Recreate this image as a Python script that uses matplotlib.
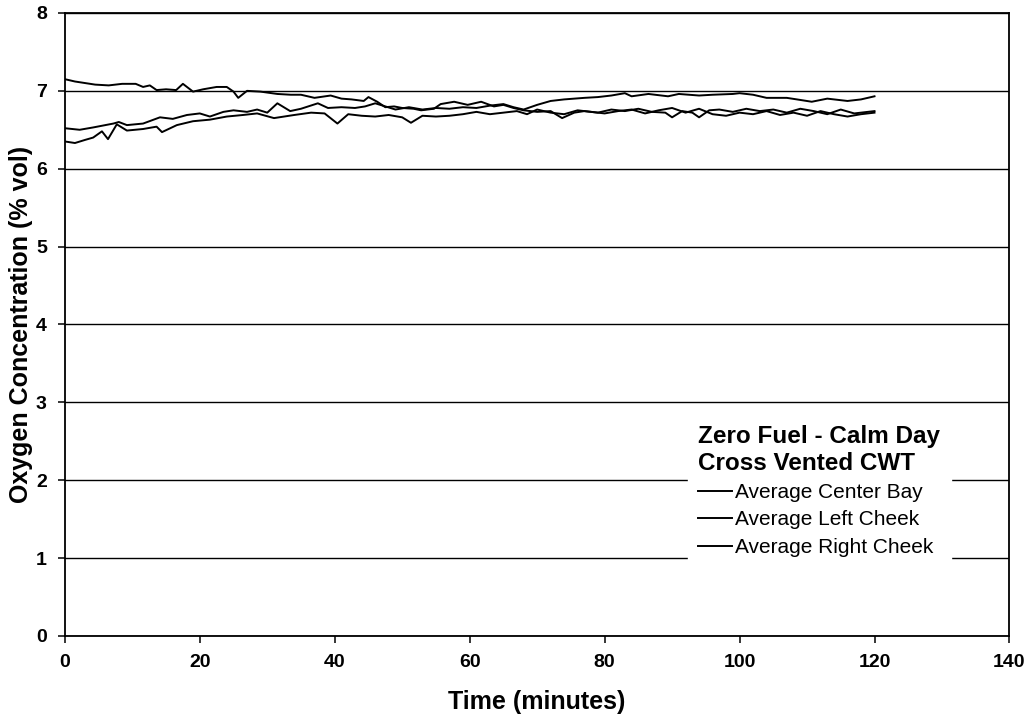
import matplotlib.pyplot as plt

# ============================================================
# Oxygen concentration - zero fuel, calm day, cross vented CWT
# values
# ============================================================

center_time = [0, 1.5, 3, 4.5, 6.5, 8.5, 10.5, 11.6, 12.6, 13.6, 15, 16.5, 17.5, 19, 20.5,
               22.5, 24, 25, 25.7, 27, 29, 31.5, 33.5, 35, 37, 39.4, 41, 42.5, 44.3, 45,
               46.3, 47.5, 48.8, 50, 51.7, 52.8, 54.7, 55.7, 57.7, 59.7, 61.7, 63.6, 65,
               66.5, 68, 70, 72, 73.7, 75.5, 77, 79, 81, 83, 85, 87, 89, 90, 91.5, 93, 94,
               95.5, 97, 99, 101, 103, 105, 107, 109, 111, 113, 115, 117, 119, 120]
center_o2 = [7.15, 7.12, 7.10, 7.08, 7.07, 7.09, 7.09, 7.05, 7.07, 7.01, 7.02, 7.01, 7.09, 6.99, 7.02,
             7.05, 7.05, 6.99, 6.91, 7.00, 6.99, 6.96, 6.95, 6.95, 6.91, 6.94, 6.90, 6.89, 6.87, 6.92,
             6.86, 6.79, 6.80, 6.78, 6.77, 6.75, 6.77, 6.83, 6.86, 6.82, 6.86, 6.80, 6.82,
             6.78, 6.75, 6.73, 6.74, 6.65, 6.72, 6.74, 6.72, 6.76, 6.74, 6.77, 6.73, 6.72, 6.66, 6.74, 6.72, 6.66,
             6.75, 6.76, 6.73, 6.77, 6.74, 6.76, 6.72, 6.77, 6.74, 6.70, 6.76, 6.71, 6.73, 6.74]

left_time = [0, 2.2, 4.2, 6, 7.2, 8, 9.2, 11.6, 14.1, 16, 18.1, 20, 21.5, 23.5, 25, 27, 28.5,
             30, 31.5, 33.4, 35, 37.5, 39, 41, 43, 44.5, 46, 47.5, 49, 51, 53, 55, 57, 59, 61,
             63, 65, 66.5, 68, 70, 72, 74, 77, 79, 81, 83, 84, 86.5, 89.4, 91, 94, 96, 99,
             100, 102, 104, 107, 108.5, 110.7, 113, 116, 118, 120]
left_o2 = [6.52, 6.50, 6.53, 6.56, 6.58, 6.60, 6.56, 6.58, 6.66, 6.64, 6.69, 6.71, 6.67, 6.73, 6.75, 6.73, 6.76,
           6.72, 6.84, 6.74, 6.77, 6.84, 6.78, 6.79, 6.78, 6.80, 6.84, 6.80, 6.76, 6.79, 6.76, 6.78, 6.77, 6.79, 6.78,
           6.81, 6.83, 6.79, 6.76, 6.82, 6.87, 6.89, 6.91, 6.92, 6.94, 6.97, 6.93, 6.96, 6.93, 6.96, 6.94, 6.95, 6.96,
           6.97, 6.95, 6.91, 6.91, 6.89, 6.86, 6.90, 6.87, 6.89, 6.93]

right_time = [0, 1.5, 3, 4.2, 5.5, 6.4, 7.7, 9.2, 11.6, 13.6, 14.4, 16.6, 19, 21.5, 24, 26.4,
              28.5, 31, 34, 36.5, 38.5, 40.4, 42, 44, 46, 48, 50, 51.3, 53, 55, 57, 59, 61,
              63, 65, 67, 68.5, 70, 72, 74, 76, 78, 80, 82, 84, 86, 88, 90, 92, 94, 96, 98,
              100, 102, 104, 106, 108, 110, 112, 114, 116, 118, 120]
right_o2 = [6.35, 6.33, 6.37, 6.40, 6.48, 6.38, 6.57, 6.49, 6.51, 6.54, 6.47, 6.56, 6.61, 6.63, 6.67, 6.69,
            6.71, 6.65, 6.69, 6.72, 6.71, 6.58, 6.70, 6.68, 6.67, 6.69, 6.66, 6.59, 6.68, 6.67, 6.68, 6.70, 6.73,
            6.70, 6.72, 6.74, 6.70, 6.76, 6.72, 6.70, 6.75, 6.73, 6.71, 6.74, 6.76, 6.71, 6.75, 6.78, 6.72, 6.77, 6.70, 6.68,
            6.72, 6.70, 6.74, 6.69, 6.72, 6.68, 6.74, 6.70, 6.67, 6.70, 6.72]

x_ticks = [0, 20, 40, 60, 80, 100, 120, 140]
y_ticks = [0, 1, 2, 3, 4, 5, 6, 7, 8]

# Arial-like font for the whole figure
plt.rcParams['font.family'] = ['Liberation Sans', 'DejaVu Sans']

fig = plt.figure(figsize=(10.29, 7.21), dpi=100)
ax = fig.add_axes([0.063, 0.118, 0.918, 0.864])

ax.plot(center_time, center_o2, color='black', lw=1.4, label='Average Center Bay')
ax.plot(left_time, left_o2, color='black', lw=1.4, label='Average Left Cheek')
ax.plot(right_time, right_o2, color='black', lw=1.4, label='Average Right Cheek')

ax.set_xlim(0, 140)
ax.set_ylim(0, 8)
ax.set_xticks(x_ticks)
ax.set_yticks(y_ticks)
ax.yaxis.grid(True, color='black', lw=1.0)
ax.set_axisbelow(True)

for spine in ax.spines.values():
    spine.set_linewidth(1.3)

ax.tick_params(axis='both', direction='out', length=5, width=1.1, labelsize=14, pad=8)
for lbl in ax.get_xticklabels() + ax.get_yticklabels():
    lbl.set_fontweight('bold')

ax.set_xlabel('Time (minutes)', fontsize=18, fontweight='bold', labelpad=14)
ax.set_ylabel('Oxygen Concentration (% vol)', fontsize=18, fontweight='bold', labelpad=2)

leg = ax.legend(title='Zero Fuel - Calm Day\nCross Vented CWT',
                loc='upper left', bbox_to_anchor=(0.6595, 0.355),
                fontsize=15, title_fontproperties={'size': 17.5, 'weight': 'bold'},
                alignment='left', frameon=True, fancybox=False,
                edgecolor='white', facecolor='white', framealpha=1.0,
                handlelength=1.6, handletextpad=0.15, labelspacing=0.4,
                borderpad=0.5, borderaxespad=0.0)

fig.savefig('out.png', dpi=100)
